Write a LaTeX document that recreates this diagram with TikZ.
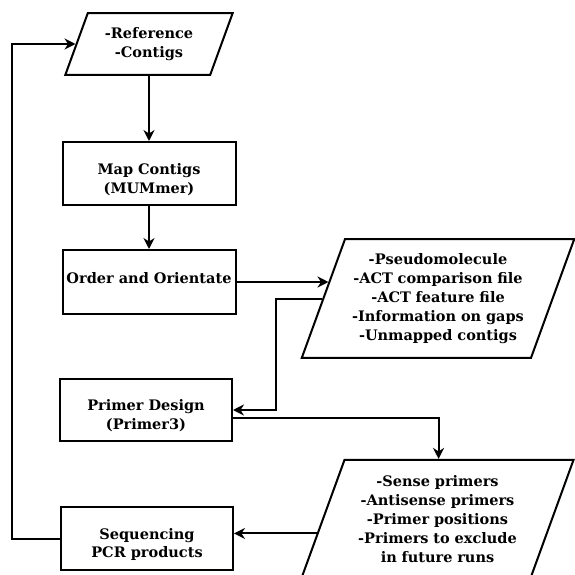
\documentclass[tikz,border=0pt]{standalone}
\usepackage{fontspec}
\setmainfont{DejaVu Serif}
\usetikzlibrary{shapes.geometric,arrows.meta,calc}

\tikzset{
  procbox/.style={draw,line width=2pt,minimum width=172pt,minimum height=63pt,align=center,inner sep=2pt},
  twolines/.style={text height=41.8pt},
  databox/.style={draw,line width=2pt,trapezium,trapezium left angle=70,trapezium right angle=110,
    align=center,inner xsep=0pt,text width=186pt},
  flow/.style={line width=2pt,-{Stealth[length=11pt,width=11pt]}}
}

\begin{document}
\begin{tikzpicture}[x=1pt,y=-1pt,font=\bfseries\fontsize{14.5}{18.8}\selectfont]
\useasboundingbox (0,0) rectangle (574,575);

\node[databox,text width=122.4pt,inner ysep=14.35pt] (ref) at (149,44) {-Reference\\-Contigs};
\node[procbox,twolines,minimum width=173pt] (map) at (149,173.5) {Map Contigs\\(MUMmer)};
\node[procbox,minimum width=173pt,minimum height=64pt,text depth=8pt] (order) at (149,282) {Order and Orientate};
\node[databox,inner ysep=14.65pt] (out1) at (438,298.5)
  {-Pseudomolecule\\-ACT comparison file\\-ACT feature file\\-Information on gaps\\-Unmapped contigs};
\node[procbox,twolines,minimum height=62pt] (primer) at (146,410) {Primer Design\\(Primer3)};
\node[databox,inner ysep=15.9pt] (out2) at (437.5,519)
  {-Sense primers\\-Antisense primers\\-Primer positions\\-Primers to exclude\\in future runs};
\node[procbox,twolines] (seq) at (147,538.5) {Sequencing\\PCR products};

% points on the slanted edges
\coordinate (in1) at ($(out1.bottom left corner)!0.64!(out1.top left corner)$);
\coordinate (in2) at ($(out2.top left corner)!0.41!(out2.top right corner)$);
\coordinate (out2l) at ($(out2.bottom left corner)!0.38!(out2.top left corner)$);

\draw[flow] (ref) -- (map);
\draw[flow] (map) -- (order);
\draw[flow] (order.east) -- (order.east -| in1);
\draw[flow] (out1.west) -- ++(-46,0) |- (primer.east);
\draw[flow] ([yshift=-8pt]primer.east) -| (in2);
\draw[flow] (out2l) -- (out2l -| seq.east);
\draw[flow] (seq.west) -- ++(-48,0) |- (ref.west);

\end{tikzpicture}
\end{document}
